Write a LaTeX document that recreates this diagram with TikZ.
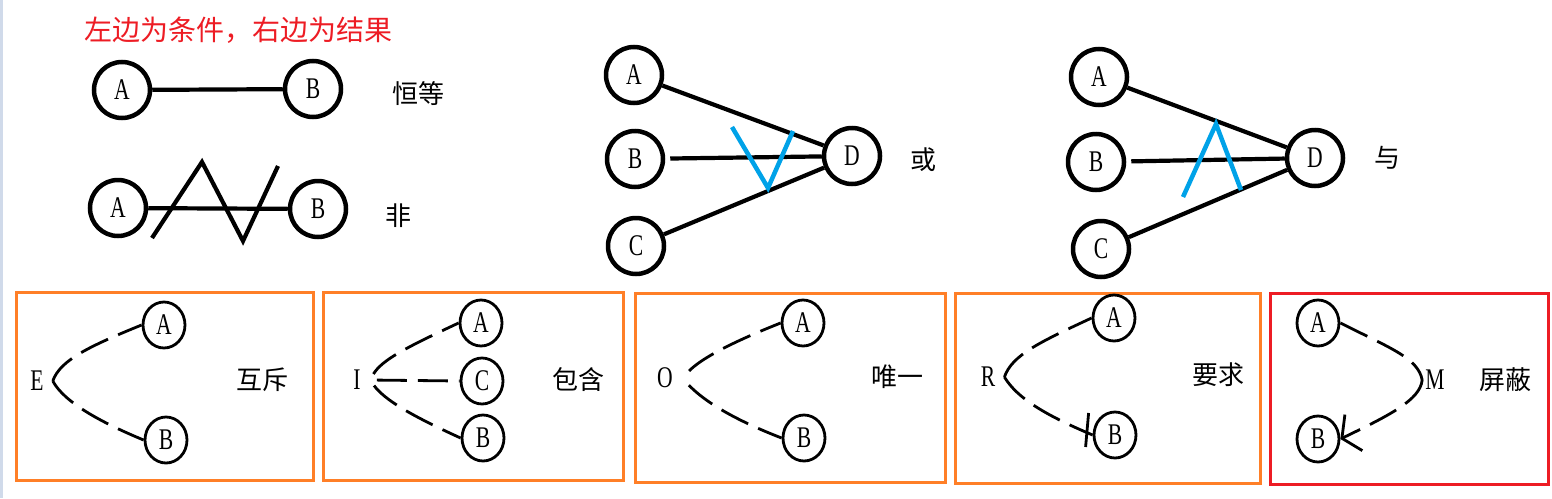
\documentclass[tikz,border=0pt]{standalone}
\usepackage{fontspec}
\setmainfont{Liberation Serif}[FakeStretch=0.72]
\newfontfamily\cjk{Noto Sans CJK SC}
\usepackage{tikz}
\usetikzlibrary{arrows.meta,shapes.geometric}
\definecolor{paintred}{RGB}{237,28,36}
\definecolor{paintorange}{RGB}{255,127,39}
\definecolor{paintblue}{RGB}{0,162,232}
\definecolor{edgegray}{RGB}{208,218,234}

\begin{document}
\begin{tikzpicture}[x=1pt, y=-1pt,
    every node/.style={font=\fontsize{30}{32}\selectfont},
    bigc/.style={circle, draw, line width=4.5pt, minimum size=56pt, inner sep=0pt},
    smallc/.style={ellipse, draw, line width=2.8pt, minimum width=42pt, minimum height=46pt, inner sep=0pt},
    letter/.style={inner ysep=2pt, inner xsep=9pt},
    lbl/.style={font=\cjk\fontsize{26}{28}\selectfont},
    tie/.style={line width=4.2pt},
    vee/.style={paintblue, line width=4.5pt, line join=miter},
    dashtie/.style={line width=2.8pt, dash pattern=on 30pt off 11pt},
    boxline/.style={paintorange, line width=3pt}
  ]
  \useasboundingbox (0,0) rectangle (1552,498);
  \fill[edgegray] (0,0) rectangle (3,498);

  \node[font=\cjk\fontsize{28}{30}\selectfont, text=paintred] (title) at (238,30) {左边为条件，右边为结果};

  % identity
  \node[bigc] (a1) at (122,90) {A};
  \node[bigc] (b1) at (313,89) {B};
  \draw[tie] (a1) -- (b1);
  \node[lbl] (l1) at (418,94) {恒等};

  % negation
  \node[bigc] (a2) at (118,208) {A};
  \node[bigc] (b2) at (318,209) {B};
  \draw[tie] (a2) -- (b2);
  \draw[tie, line join=miter] (152,238) -- (202,162) -- (243,241) -- (278,166);
  \node[lbl] (l2) at (398,216) {非};

  % or
  \node[bigc] (a3) at (634,75) {A};
  \node[bigc] (b3) at (635,159) {B};
  \node[bigc] (c3) at (636,246) {C};
  \node[bigc] (d3) at (852,156) {D};
  \draw[tie] (a3) -- (d3);
  \draw[tie, shorten <=5pt] (b3) -- (d3);
  \draw[tie] (c3) -- (d3);
  \draw[vee] (732,127) -- (768,188) -- (793,131);
  \node[lbl] (l3) at (923,160) {或};

  % and
  \node[bigc] (a4) at (1099,77) {A};
  \node[bigc] (b4) at (1096,162) {B};
  \node[bigc] (c4) at (1101,249) {C};
  \node[bigc] (d4) at (1315,158) {D};
  \draw[tie] (a4) -- (d4);
  \draw[tie, shorten <=5pt] (b4) -- (d4);
  \draw[tie] (c4) -- (d4);
  \draw[vee] (1183,197) -- (1216,124) -- (1241,190);
  \node[lbl] (l4) at (1387,158) {与};

  % E: exclusive
  \draw[boxline] (16,292) rectangle (313,480);
  \node[letter] (e) at (37,381) {E};
  \node[smallc] (ea) at (164,325) {A};
  \node[smallc] (eb) at (166,440) {B};
  \draw[dashtie] (e.east) .. controls (60,360) and (90,346) .. (ea.west);
  \draw[dashtie] (e.east) .. controls (64,402) and (100,422) .. (eb.west);
  \node[lbl] (le) at (262,380) {互斥};

  % I: inclusive
  \draw[boxline] (323,292) rectangle (623,480);
  \node[letter] (i) at (357,380) {I};
  \node[smallc] (ia) at (481,323) {A};
  \node[smallc] (ic) at (482,381) {C};
  \node[smallc] (ib) at (483,438) {B};
  \draw[dashtie, shorten <=7pt] (i.east) .. controls (382,360) and (405,348) .. (ia.west);
  \draw[dashtie, shorten <=7pt] (i.east) -- (ic.west);
  \draw[dashtie, shorten <=7pt] (i.east) .. controls (385,400) and (410,415) .. (ib.west);
  \node[lbl] (li) at (578,380) {包含};

  % O: one and only one
  \draw[boxline] (635,293) rectangle (945,482);
  \node[letter] (o) at (665,378) {O};
  \node[smallc] (oa) at (803,323) {A};
  \node[smallc] (ob) at (804,438) {B};
  \draw[dashtie, shorten <=10pt] (o.east) .. controls (700,360) and (725,345) .. (oa.west);
  \draw[dashtie, shorten <=10pt] (o.east) .. controls (705,402) and (735,420) .. (ob.west);
  \node[lbl] (lo) at (897,377) {唯一};

  % R: requires
  \draw[boxline] (955,293) rectangle (1260,483);
  \node[letter] (r) at (988,377) {R};
  \node[smallc] (ra) at (1114,318) {A};
  \node[smallc] (rb) at (1115,435) {B};
  \draw[dashtie] (r.east) .. controls (1012,355) and (1040,342) .. (ra.west);
  \draw[dashtie] (r.east) .. controls (1017,398) and (1045,415) .. (rb.west);
  \draw[line width=2.8pt] ([shift={(-4,-22)}]rb.west) -- ([shift={(-7,12)}]rb.west);
  \node[lbl] (lr) at (1218,375) {要求};

  % M: masks
  \draw[boxline, paintred] (1270,293) rectangle (1548,484);
  \node[smallc] (ma) at (1318,323) {A};
  \node[smallc] (mb) at (1318,439) {B};
  \node[letter, inner xsep=3pt] (m) at (1435,380) {M};
  \draw[dashtie] (ma.east) .. controls (1390,348) and (1418,358) .. (m.west);
  \draw[dashtie, -{Straight Barb[length=13pt, width=40pt]}] (m.west) .. controls (1420,400) and (1390,415) .. (mb.east);
  \node[lbl] (lm) at (1505,380) {屏蔽};
\end{tikzpicture}
\end{document}
